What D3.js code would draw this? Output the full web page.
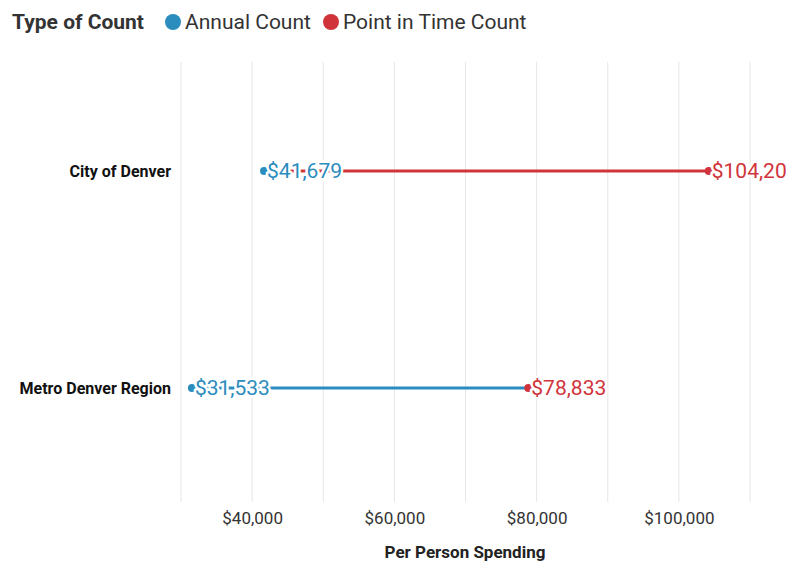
<!DOCTYPE html>
<html><head><meta charset="utf-8">
<script src="https://cdn.jsdelivr.net/npm/d3@7"></script>
<style>body{margin:0;background:#fff;font-family:Roboto,sans-serif}</style>
</head><body><svg id="c" width="800" height="575"></svg>
<script>
const categories = ["City of Denver", "Metro Denver Region"];
const annual = [41679, 31533];
const pointInTime = [104201, 78833];
const lineSeries = ["Point in Time Count", "Annual Count"];
const seriesNames = ["Annual Count", "Point in Time Count"];
const tickValues = [40000, 60000, 80000, 100000];
const gridValues = [30000,40000,50000,60000,70000,80000,90000,100000,110000];

const colors = {"Annual Count":"#2b8cbe","Point in Time Count":"#d0343a"};
const svg = d3.select("#c");
const x = d3.scaleLinear().domain([30000,110000]).range([181,750]);
const y = d3.scalePoint().domain(categories).range([171,388]);
const fmt = v => "$" + d3.format(",")(v);

svg.append("defs").append("clipPath").attr("id","clip").append("rect")
  .attr("x",0).attr("y",50).attr("width",787).attr("height",460);

svg.append("g").selectAll("line").data(gridValues).join("line")
  .attr("x1",d=>x(d)).attr("x2",d=>x(d)).attr("y1",62).attr("y2",502)
  .attr("stroke","#e6e6e6").attr("stroke-width",1);

const ax = svg.append("g").attr("transform","translate(0,506)")
  .call(d3.axisBottom(x).tickValues(tickValues).tickFormat(fmt).tickSize(0).tickPadding(6));
ax.select(".domain").remove();
ax.selectAll("text").attr("font-family","Roboto").attr("font-size",17).attr("fill","#333");
svg.append("text").attr("x",465).attr("y",558).attr("text-anchor","middle")
  .attr("font-size",17).attr("font-weight","bold").attr("fill","#222").text("Per Person Spending");

svg.append("g").selectAll("text").data(categories).join("text")
  .attr("x",171).attr("y",d=>y(d)).attr("dy","0.35em").attr("text-anchor","end")
  .attr("font-size",16).attr("font-weight","bold").attr("fill","#111").text(d=>d);

const g = svg.append("g").attr("clip-path","url(#clip)");
categories.forEach((c,i)=>{
  const yy = y(c);
  g.append("line").attr("x1",x(annual[i])).attr("x2",x(pointInTime[i]))
    .attr("y1",yy).attr("y2",yy).attr("stroke",colors[lineSeries[i]]).attr("stroke-width",3);
  [[annual[i],"Annual Count"],[pointInTime[i],"Point in Time Count"]].forEach(([v,s])=>{
    g.append("circle").attr("cx",x(v)).attr("cy",yy).attr("r",4).attr("fill",colors[s]);
  });
  [[annual[i],"Annual Count"],[pointInTime[i],"Point in Time Count"]].forEach(([v,s])=>{
    g.append("text").attr("x",x(v)+3).attr("y",yy).attr("dy","0.35em")
      .attr("font-size",21).attr("fill",colors[s]).attr("stroke","#fff").attr("stroke-width",5)
      .attr("stroke-linejoin","round").attr("paint-order","stroke").text(fmt(v));
  });
});

svg.append("text").attr("x",12).attr("y",29).attr("font-size",21).attr("font-weight","bold")
  .attr("fill","#333").text("Type of Count");
const lx = [173, 331];
seriesNames.forEach((s,i)=>{
  svg.append("circle").attr("cx",lx[i]).attr("cy",22).attr("r",8).attr("fill",colors[s]);
  svg.append("text").attr("x",lx[i]+12).attr("y",29).attr("font-size",21).attr("fill","#333").text(s);
});
</script></body></html>
